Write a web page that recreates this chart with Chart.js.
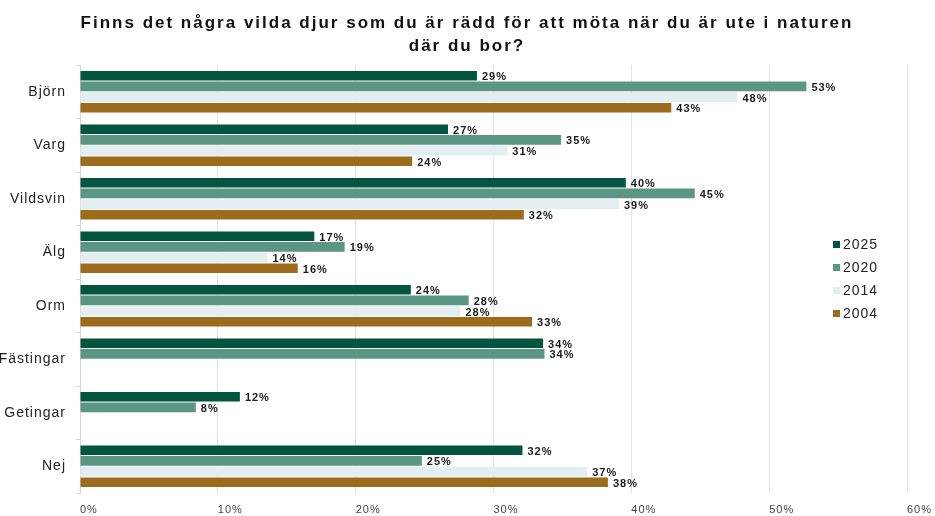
<!DOCTYPE html>
<html>
<head>
<meta charset="utf-8">
<script src="https://cdn.jsdelivr.net/npm/chart.js@4"></script>
<style>
  html, body { margin: 0; padding: 0; background: #fff; }
  #wrap { width: 935px; height: 516px; }
</style>
</head>
<body>
<div id="wrap"><canvas id="animalChart" width="935" height="516"></canvas></div>
<script>
const categories = ["Björn", "Varg", "Vildsvin", "Älg", "Orm", "Fästingar", "Getingar", "Nej"];
const years = ["2025", "2020", "2014", "2004"];
const values2025 = [28.8, 26.7, 39.6, 17.0, 24.0, 33.6, 11.6, 32.1];
const values2020 = [52.7, 34.9, 44.6, 19.2, 28.2, 33.7, 8.4, 24.8];
const values2014 = [47.7, 31.0, 39.1, 13.6, 27.6, null, null, 36.8];
const values2004 = [42.9, 24.1, 32.2, 15.8, 32.8, null, null, 38.3];
const xTicks = [0, 10, 20, 30, 40, 50, 60];
const titleLines = [
  "Finns det några vilda djur som du är rädd för att möta när du är ute i naturen",
  "där du bor?",
];
const colors = ["#03553f", "#5b9583", "#e3eef1", "#9c6b1c"];

const font = "'Liberation Sans', Arial, sans-serif";

// the reference text is slightly letter-spaced everywhere
const spacing = {
  id: "spacing",
  beforeDraw(chart) {
    chart.ctx.letterSpacing = "1px";
  },
};

// title drawn by hand so it can get wider letter spacing
const spacedTitle = {
  id: "spacedTitle",
  afterDraw(chart) {
    const ctx = chart.ctx;
    ctx.save();
    ctx.letterSpacing = "2px";
    ctx.font = "bold 17px " + font;
    ctx.fillStyle = "#111";
    ctx.textAlign = "center";
    ctx.textBaseline = "middle";
    titleLines.forEach((t, i) => ctx.fillText(t, 467, 23 + i * 23));
    ctx.restore();
  },
};

// value labels next to each bar
const barLabels = {
  id: "barLabels",
  afterDatasetsDraw(chart) {
    const ctx = chart.ctx;
    ctx.save();
    ctx.letterSpacing = "1px";
    ctx.font = "bold 11px " + font;
    ctx.fillStyle = "#1a1a1a";
    ctx.textAlign = "left";
    ctx.textBaseline = "middle";
    chart.data.datasets.forEach((ds, i) => {
      const meta = chart.getDatasetMeta(i);
      meta.data.forEach((bar, j) => {
        const v = ds.data[j];
        if (v === null || v === undefined) return;
        ctx.fillText(Math.round(v) + "%", bar.x + 5, bar.y + 1.5);
      });
    });
    ctx.restore();
  },
};

// legend drawn inside the plot area on the right
const innerLegend = {
  id: "innerLegend",
  afterDraw(chart) {
    const ctx = chart.ctx;
    const area = chart.chartArea;
    const x = area.right - 74;
    const step = 23;
    const y0 = (area.top + area.bottom) / 2 - step * 1.5;
    ctx.save();
    ctx.letterSpacing = "1px";
    ctx.font = "14px " + font;
    ctx.textBaseline = "middle";
    ctx.textAlign = "left";
    chart.data.datasets.forEach((ds, i) => {
      const y = y0 + i * step;
      ctx.fillStyle = ds.backgroundColor;
      ctx.fillRect(x, y - 3.5, 7, 7);
      ctx.fillStyle = "#222";
      ctx.fillText(ds.label, x + 10, y + 1);
    });
    ctx.restore();
  },
};

const seriesData = [values2025, values2020, values2014, values2004];

new Chart(document.getElementById("animalChart"), {
  type: "bar",
  data: {
    labels: categories,
    datasets: years.map((y, i) => ({
      label: y,
      data: seriesData[i],
      backgroundColor: colors[i],
      borderWidth: 0,
      barPercentage: 0.9,
      categoryPercentage: 0.8,
    })),
  },
  options: {
    indexAxis: "y",
    responsive: false,
    animation: false,
    layout: { padding: { top: 65, left: 0, right: 28, bottom: 0 } },
    plugins: {
      legend: { display: false },
      tooltip: { enabled: false },
      title: { display: false },
    },
    scales: {
      x: {
        min: 0,
        max: 60,
        afterBuildTicks(scale) {
          scale.ticks = xTicks.map((v) => ({ value: v }));
        },
        afterFit(scale) {
          scale.height = 23;
          scale.paddingLeft = 0;
          scale.paddingRight = 0;
        },
        ticks: {
          align: "start",
          padding: 10,
          color: "#444",
          font: { family: font, size: 11 },
          callback: (v) => v + "%",
        },
        grid: { color: "#e3e3e3", drawTicks: false },
        border: { display: false },
      },
      y: {
        afterFit(scale) {
          scale.width = 80;
        },
        ticks: {
          padding: 10,
          color: "#222",
          font: { family: font, size: 14 },
        },
        grid: { drawOnChartArea: false, tickLength: 4, color: "#d6d6d6" },
        border: { display: true, color: "#d6d6d6" },
      },
    },
  },
  plugins: [spacing, barLabels, innerLegend, spacedTitle],
});
</script>
</body>
</html>
